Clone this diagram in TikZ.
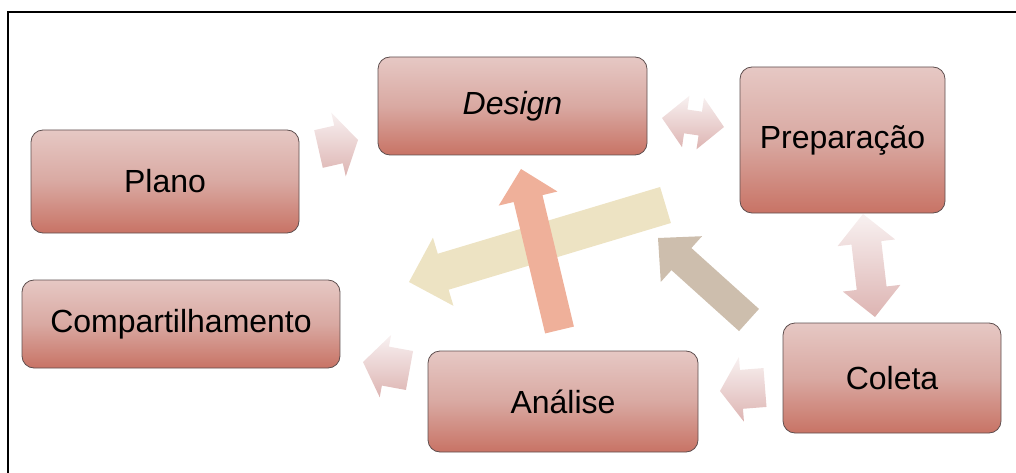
\documentclass[tikz,border=0pt]{standalone}
\usepackage{fontspec}
\setmainfont{Liberation Sans}
\usetikzlibrary{calc}
\definecolor{boxtop}{HTML}{E6C8C4}
\definecolor{boxmid}{HTML}{D9A9A2}
\definecolor{boxbot}{HTML}{C87365}
\definecolor{boxline}{HTML}{5E4E4E}
\definecolor{smtop}{HTML}{F8F1F1}
\definecolor{smbot}{HTML}{DDB4B2}
\definecolor{beigea}{HTML}{EDE3C3}
\definecolor{salmona}{HTML}{EFB09A}
\definecolor{taupea}{HTML}{CDBEAD}
\newcommand{\blockarr}[6]{%
 \coordinate (ba-H) at ($(#3)!#6pt!(#2)$);
 \path[#1] ($(#2)!#4pt!90:(#3)$) -- ($(ba-H)!#4pt!-90:(#2)$) -- ($(ba-H)!#5pt!-90:(#2)$) -- (#3) -- ($(ba-H)!#5pt!90:(#2)$) -- ($(ba-H)!#4pt!90:(#2)$) -- ($(#2)!#4pt!-90:(#3)$) -- cycle;}
\newcommand{\dblarr}[6]{%
 \coordinate (da-A) at ($(#2)!#6pt!(#3)$);
 \coordinate (da-B) at ($(#3)!#6pt!(#2)$);
 \path[#1] (#2) -- ($(da-A)!#5pt!90:(#3)$) -- ($(da-A)!#4pt!90:(#3)$) -- ($(da-B)!#4pt!-90:(#2)$) -- ($(da-B)!#5pt!-90:(#2)$) -- (#3) -- ($(da-B)!#5pt!90:(#2)$) -- ($(da-B)!#4pt!90:(#2)$) -- ($(da-A)!#4pt!-90:(#3)$) -- ($(da-A)!#5pt!-90:(#3)$) -- cycle;}
\tikzset{
 stagebox/.style={draw=boxline, line width=0.8pt, rounded corners=12pt,
   top color=boxtop, bottom color=boxbot, middle color=boxmid,
   font=\fontsize{32}{36}\selectfont, inner sep=0pt},
 smallarrow/.style={top color=smtop, bottom color=smbot},
 beigearrow/.style={fill=beigea},
 salmonarrow/.style={fill=salmona},
 taupearrow/.style={fill=taupea},
 frameline/.style={draw=black, line width=1.6pt}
}
\begin{document}
\begin{tikzpicture}[x=1pt,y=-1pt]
\useasboundingbox (0,0) rectangle (1016,473);
% frame
\coordinate (fb) at (8,473);
\coordinate (fc) at (8,12);
\coordinate (fr) at (1016,12);
\draw[frameline] (fb) -- (fc) -- (fr);
% boxes
\node[stagebox, minimum width=268pt, minimum height=103pt] (plano) at (165,181.5) {Plano};
\node[stagebox, minimum width=318pt, minimum height=88pt] (comp) at (181,324) {Compartilhamento};
\node[stagebox, minimum width=269pt, minimum height=98pt] (design) at (512.5,106) {\itshape Design};
\node[stagebox, minimum width=205pt, minimum height=146pt] (prep) at (842.5,140) {Preparação};
\node[stagebox, minimum width=218pt, minimum height=110pt] (coleta) at (892,378) {Coleta};
\node[stagebox, minimum width=270pt, minimum height=101pt] (analise) at (563,401.5) {Análise};
% small arrows
\coordinate (a1t) at (318.5,149); \coordinate (a1p) at (358,140);
\blockarr{smallarrow}{a1t}{a1p}{19.3}{32.7}{20}
\coordinate (a2a) at (662,118); \coordinate (a2b) at (724,127);
\dblarr{smallarrow}{a2a}{a2b}{12}{26}{24}
\coordinate (a3a) at (863,214); \coordinate (a3b) at (875,317);
\dblarr{smallarrow}{a3a}{a3b}{15}{29}{29}
\coordinate (a4t) at (765,387.5); \coordinate (a4p) at (720,391);
\blockarr{smallarrow}{a4t}{a4p}{19.5}{32.5}{21.5}
\coordinate (a5t) at (409.5,370.5); \coordinate (a5p) at (363,362);
\blockarr{smallarrow}{a5t}{a5p}{19.8}{31.7}{22.8}
% big arrows
\coordinate (btail) at (665.5,205); \coordinate (btip) at (409,282);
\blockarr{beigearrow}{btail}{btip}{18.8}{35.6}{35.7}
\coordinate (ttail) at (749,320); \coordinate (ttip) at (658,238);
\blockarr{taupearrow}{ttail}{ttip}{14.9}{30.8}{31.5}
\coordinate (stail) at (559.5,330); \coordinate (stip) at (521,169);
\blockarr{salmonarrow}{stail}{stip}{14.8}{30.2}{30.4}
\end{tikzpicture}
\end{document}
